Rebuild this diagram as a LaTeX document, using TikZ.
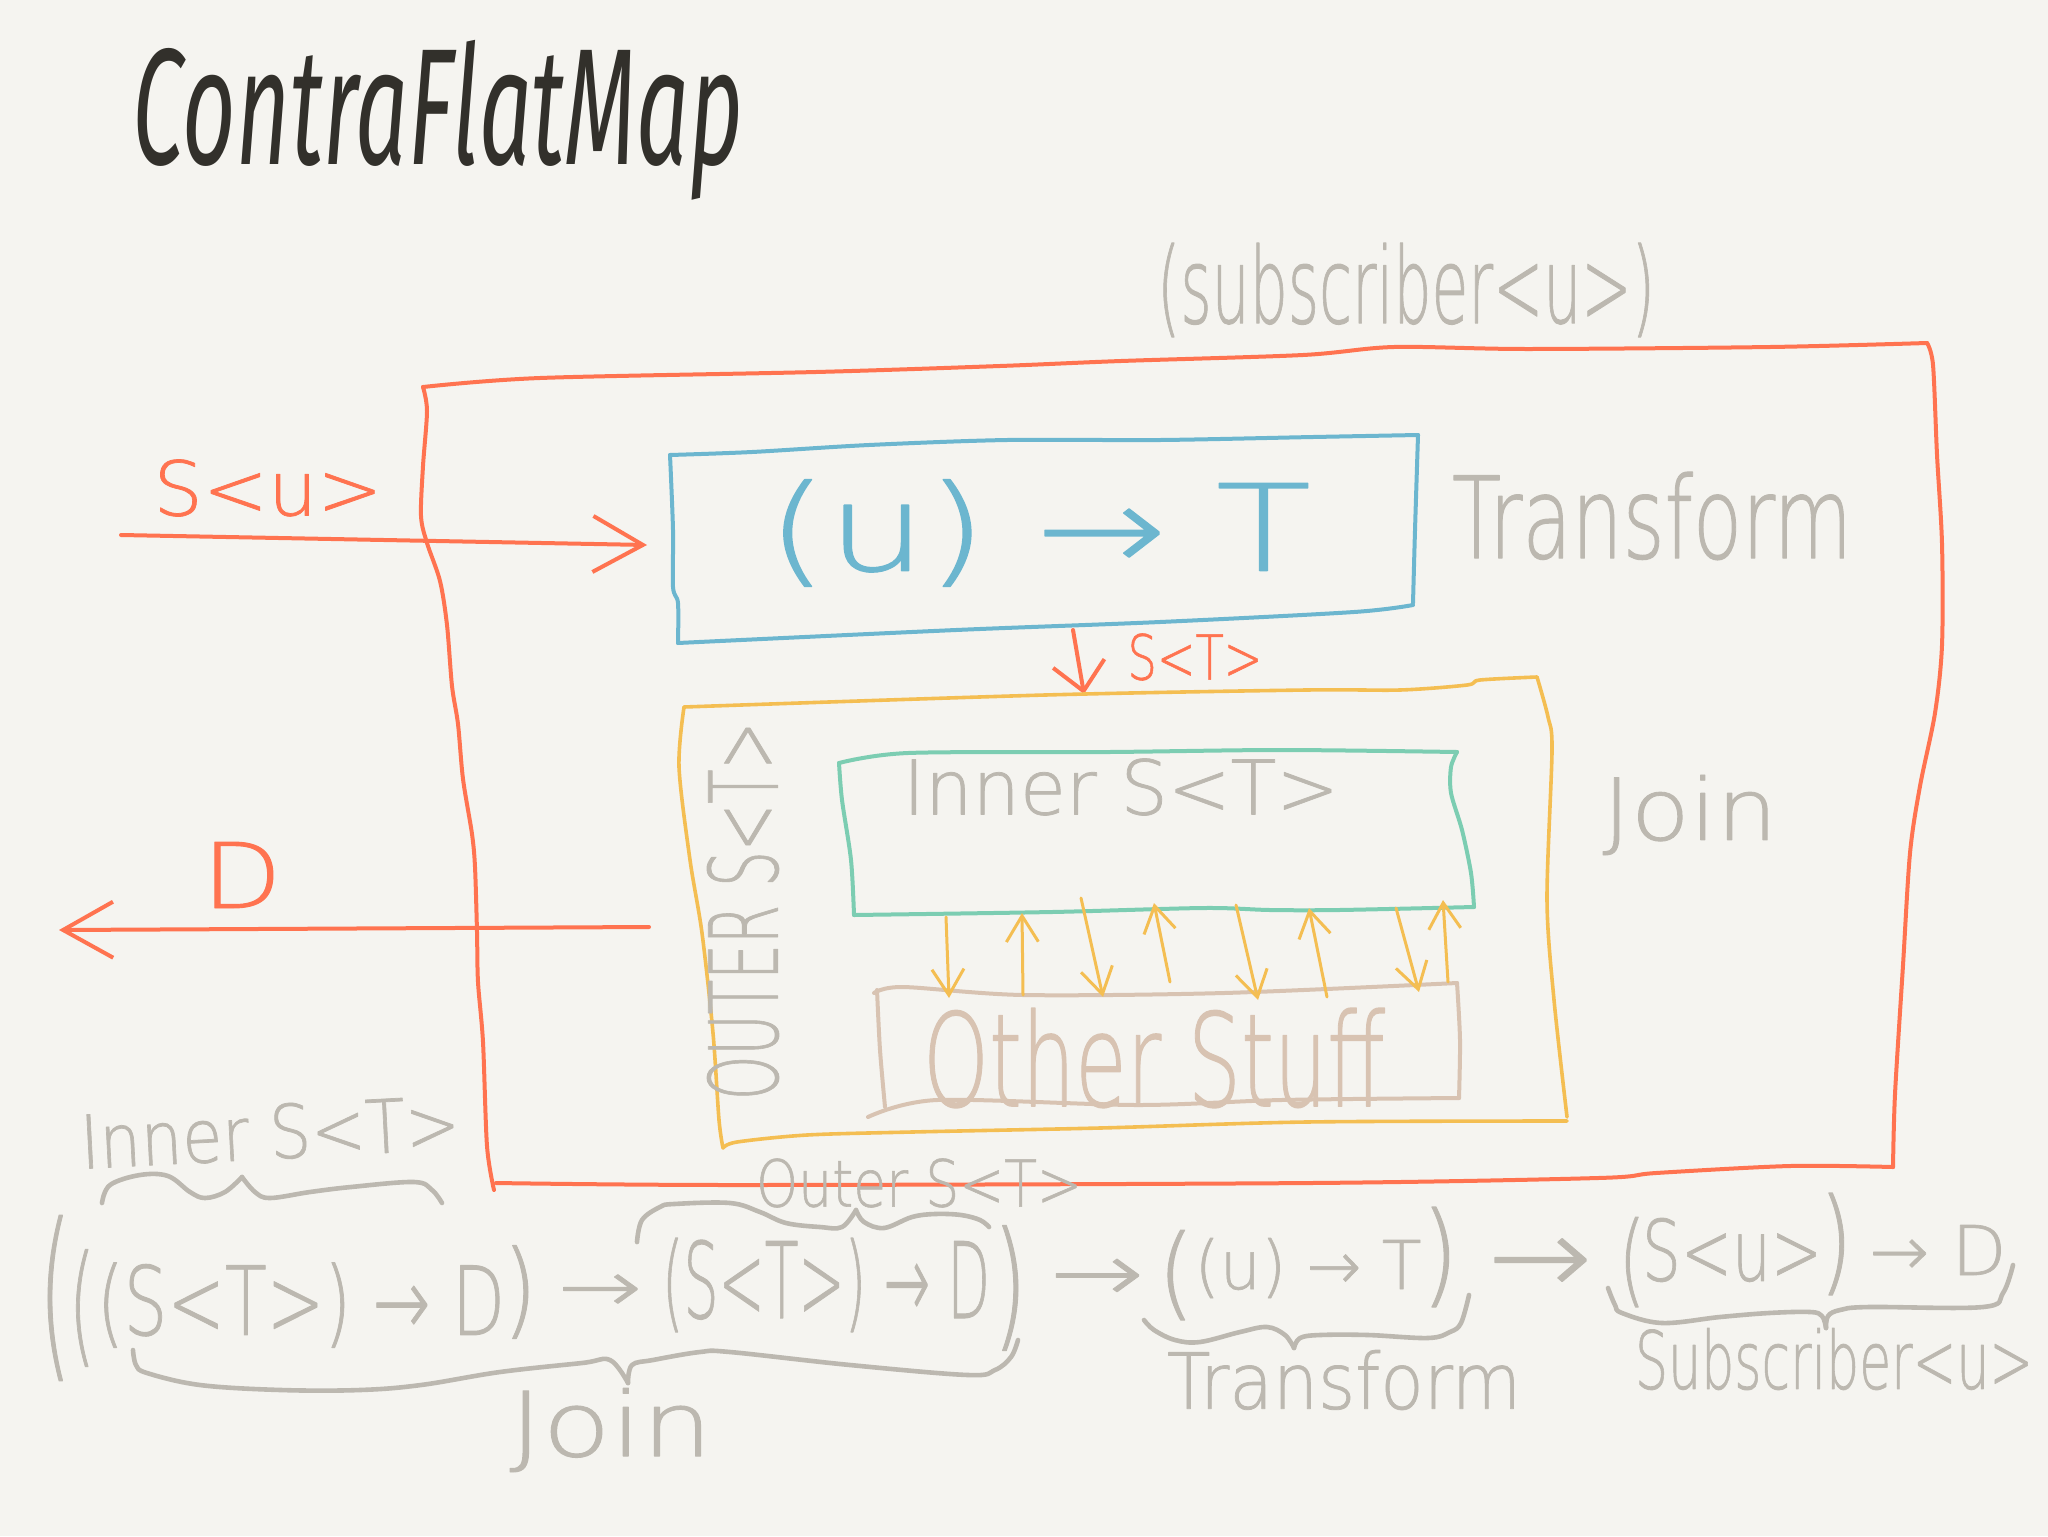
\documentclass[tikz,border=0pt]{standalone}
\usepackage{fontspec}
\usepackage{graphicx}
\usetikzlibrary{arrows.meta}
\newfontfamily\hand[Extension=.ttf,FakeBold=1]{DejaVuSans-ExtraLight}
\newfontfamily\titlef{Fira Sans}
\definecolor{bg}{HTML}{F5F4F0}
\definecolor{redo}{HTML}{FF7350}
\definecolor{bluo}{HTML}{6CB6CF}
\definecolor{greeno}{HTML}{7CCDB2}
\definecolor{yello}{HTML}{F4BE52}
\definecolor{tano}{HTML}{D8C3B2}
\definecolor{grayo}{HTML}{BCB8B0}
\definecolor{inko}{HTML}{32302B}
\newdimen\pxu \pxu=0.5pt
\newcommand\hw[3]{\resizebox*{#1\pxu}{#2\pxu}{\hand\bfseries #3}}
\begin{document}
\begin{tikzpicture}[x=0.5pt,y=-0.5pt,line cap=round,line join=round,
  lbl/.style={inner sep=0pt,outer sep=0pt,anchor=center},
  redbox/.style={draw=redo,line width=2pt},
  bluebox/.style={draw=bluo,line width=2pt},
  greenbox/.style={draw=greeno,line width=2pt},
  yellbox/.style={draw=yello,line width=1.8pt},
  tanbox/.style={draw=tano,line width=2pt},
  brace/.style={draw=grayo,line width=2.3pt},
  redarr/.style={draw=redo,line width=2pt,-{Straight Barb[length=25pt,width=28pt,line width=2pt]}},
  redarrs/.style={draw=redo,line width=2pt,-{Straight Barb[length=14pt,width=26pt,line width=2pt]}},
  yarr/.style={draw=yello,line width=1.5pt,-{Straight Barb[length=13pt,width=16pt,line width=1.5pt]}}]
\fill[bg] (0,0) rectangle (2048,1536);
\useasboundingbox (0,0) rectangle (2048,1536);

% title
\node[lbl,text=inko] (title) at (438,120) {\resizebox*{610\pxu}{160\pxu}{\titlef\itshape ContraFlatMap}};

% red outer box (Subscriber)
\draw[redbox] plot[smooth,tension=0.5] coordinates {(423,387) (540,378) (816,372) (1000,366) (1121,361) (1303,355) (1394,347) (1527,349) (1770,347) (1927,343)};
\draw[redbox] plot[smooth,tension=0.5] coordinates {(1927,343) (1933,365) (1937,455) (1942,544) (1942,645) (1935,713) (1920,786) (1910,853) (1903,965) (1895,1094) (1893,1167)};
\draw[redbox] plot[smooth,tension=0.5] coordinates {(1893,1167) (1790,1166) (1656,1173) (1598,1178) (1311,1183) (737,1185) (496,1183)};
\draw[redbox] plot[smooth,tension=0.5] coordinates {(494,1190) (487,1146) (483,1042) (478,982) (477,932) (475,867) (472,834) (463,779) (458,724) (452,686) (447,625) (440,581) (427,543) (421,516) (423,466) (427,411) (423,387)};
\node[lbl,text=grayo] (subscr) at (1406,290) {\hw{498}{94}{(subscriber<u>)}};

% blue box (Transform)
\draw[bluebox] plot[smooth,tension=0.5] coordinates {(670,455) (752,452) (869,445) (1007,440) (1160,440) (1313,437) (1418,435)};
\draw[bluebox] plot[smooth,tension=0.5] coordinates {(1418,435) (1415,530) (1413,603)};
\draw[bluebox] plot[smooth,tension=0.5] coordinates {(1413,605) (1354,612) (1160,622) (956,630) (678,643)};
\draw[bluebox] plot[smooth,tension=0.5] coordinates {(678,643) (678,603) (673,587) (673,530) (670,455)};
\node[lbl,text=bluo] (ut) at (1039,533) {\hw{544}{107}{(u) → T}};
\node[lbl,text=grayo] (transR) at (1652,516) {\hw{400}{88}{Transform}};

% input S<u>
\node[lbl,text=redo] (su) at (268,488) {\hw{229}{57}{S<u>}};
\coordinate (inA) at (121,535);
\coordinate (inB) at (647,545);
\draw[redarr] (inA) -- (inB);

% output D
\node[lbl,text=redo] (dl) at (242,875) {\hw{79}{66}{D}};
\coordinate (dA) at (649,927);
\coordinate (dB) at (59,930);
\draw[redarr] (dA) -- (dB);

% S<T> arrow
\coordinate (stA) at (1073,630);
\coordinate (stB) at (1084,694);
\draw[redarrs] (stA) -- (stB);
\node[lbl,text=redo] (stl) at (1195,657) {\hw{135}{47}{S<T>}};

% yellow box (Join)
\draw[yellbox] plot[smooth,tension=0.5] coordinates {(684,707) (1045,695) (1306,690) (1400,690) (1467,685) (1480,680) (1537,677)};
\draw[yellbox] plot[smooth,tension=0.5] coordinates {(1537,677) (1548,717) (1552,750) (1547,900) (1554,1000) (1567,1117)};
\draw[yellbox] plot[smooth,tension=0.5] coordinates {(1567,1121) (1306,1122) (1100,1128) (912,1132) (807,1135) (737,1142) (723,1148)};
\draw[yellbox] plot[smooth,tension=0.5] coordinates {(723,1148) (719,1120) (713,1033) (702,933) (690,860) (679,767) (684,707)};
\node[lbl,text=grayo,rotate=90] (outerv) at (743,911) {\hw{378}{72}{OUTER S<T>}};
\node[lbl,text=grayo] (joinR) at (1690,815) {\hw{175}{80}{Join}};

% green box (Inner)
\draw[greenbox] plot[smooth,tension=0.5] coordinates {(839,763) (908,753) (1109,752) (1281,750) (1457,752)};
\draw[greenbox] plot[smooth,tension=0.5] coordinates {(1457,752) (1451,767) (1451,793) (1462,830) (1471,873) (1474,907)};
\draw[greenbox] plot[smooth,tension=0.5] coordinates {(1474,907) (1339,910) (1270,910) (1204,908) (1052,912) (854,915)};
\draw[greenbox] plot[smooth,tension=0.5] coordinates {(854,915) (851,860) (842,800) (839,763)};
\node[lbl,text=grayo] (innerin) at (1121,787) {\hw{436}{57}{Inner S<T>}};

% other stuff box
\draw[tanbox] plot[smooth,tension=0.5] coordinates {(874,993) (903,987) (1023,995) (1224,993) (1457,983)};
\draw[tanbox] plot[smooth,tension=0.5] coordinates {(1457,983) (1460,1040) (1459,1098)};
\draw[tanbox] plot[smooth,tension=0.5] coordinates {(1459,1098) (1281,1100) (1138,1105) (937,1100) (868,1117)};
\draw[tanbox] plot[smooth,tension=0.5] coordinates {(877,990) (880,1050) (885,1107)};
\node[lbl,text=tano] (other) at (1154,1058) {\hw{462}{100}{Other Stuff}};

% yellow arrows between inner and other stuff
\foreach \i/\xa/\ya/\xb/\yb in {1/946/917/949/998, 2/1081/898/1103/997, 3/1236/905/1258/1000, 4/1396/908/1419/992,
  5/1023/995/1022/913, 6/1170/982/1154/903, 7/1327/997/1309/908, 8/1448/982/1443/900}{
  \coordinate (ys\i) at (\xa,\ya);
  \coordinate (ye\i) at (\xb,\yb);
  \draw[yarr] (ys\i) -- (ye\i);
}

% bottom formula
\node[lbl,text=grayo,rotate=3] (innerb) at (270,1132) {\hw{380}{56}{Inner S<T>}};
\node[lbl,text=grayo] (outerb) at (919,1183) {\hw{326}{49}{Outer S<T>}};
\draw[brace] plot[smooth,tension=0.6] coordinates {(102,1203) (110,1185) (140,1175) (168,1176) (190,1192) (205,1198) (225,1192) (242,1177)};
\draw[brace] plot[smooth,tension=0.6] coordinates {(242,1177) (255,1192) (270,1198) (310,1192) (351,1187) (414,1182) (432,1190) (442,1203)};
\draw[brace] plot[smooth,tension=0.6] coordinates {(637,1242) (642,1220) (660,1207) (674,1204) (730,1203) (760,1212) (786,1223) (820,1227) (842,1227) (856,1210)};
\draw[brace] plot[smooth,tension=0.6] coordinates {(856,1210) (864,1222) (884,1228) (912,1217) (935,1214) (961,1215) (980,1220) (989,1227)};

\node[lbl,text=grayo] (p1) at (55,1298) {\hw{32}{165}{(}};
\node[lbl,text=grayo] (p2) at (82,1308) {\hw{26}{117}{(}};
\node[lbl,text=grayo] (e1) at (301,1305) {\hw{408}{85}{(S<T>) → D}};
\node[lbl,text=grayo] (p3) at (520,1292) {\hw{34}{93}{)}};
\node[lbl,text=grayo] (a1) at (600,1293) {\hw{84}{37}{→}};
\node[lbl,text=grayo] (e2) at (826,1285) {\hw{328}{94}{(S<T>) → D}};
\node[lbl,text=grayo] (p4) at (1010,1288) {\hw{34}{125}{)}};
\node[lbl,text=grayo] (a2) at (1097,1280) {\hw{94}{42}{→}};
\node[lbl,text=grayo] (p5) at (1176,1275) {\hw{37}{90}{(}};
\node[lbl,text=grayo] (e3) at (1308,1268) {\hw{227}{60}{(u) → T}};
\node[lbl,text=grayo] (p6) at (1440,1257) {\hw{37}{100}{)}};
\node[lbl,text=grayo] (a3) at (1540,1266) {\hw{104}{55}{→}};
\node[lbl,text=grayo] (p7) at (1632,1262) {\hw{27}{90}{(}};
\node[lbl,text=grayo] (e4) at (1732,1250) {\hw{180}{64}{S<u>}};
\node[lbl,text=grayo] (p8) at (1836,1244) {\hw{33}{102}{)}};
\node[lbl,text=grayo] (e5) at (1938,1250) {\hw{137}{50}{→ D}};

\draw[brace] plot[smooth,tension=0.6] coordinates {(133,1350) (136,1365) (147,1373) (200,1385) (281,1390) (360,1390) (421,1385) (500,1372) (582,1363) (610,1360) (628,1383)};
\draw[brace] plot[smooth,tension=0.6] coordinates {(628,1383) (632,1365) (653,1360) (700,1352) (730,1352) (850,1365) (968,1375) (995,1370) (1011,1357) (1018,1340)};
\draw[brace] plot[smooth,tension=0.6] coordinates {(1144,1320) (1154,1330) (1175,1340) (1200,1342) (1240,1332) (1267,1327) (1285,1335) (1294,1348)};
\draw[brace] plot[smooth,tension=0.6] coordinates {(1294,1348) (1300,1338) (1320,1335) (1368,1335) (1428,1338) (1450,1332) (1461,1323) (1469,1295)};
\draw[brace] plot[smooth,tension=0.6] coordinates {(1608,1288) (1615,1305) (1622,1313) (1662,1323) (1720,1317) (1769,1313) (1810,1312) (1822,1316) (1826,1328)};
\draw[brace] plot[smooth,tension=0.6] coordinates {(1826,1328) (1828,1316) (1840,1310) (1869,1307) (1983,1307) (2003,1293) (2013,1265)};

\node[lbl,text=grayo] (joinb) at (611,1430) {\hw{203}{84}{Join}};
\node[lbl,text=grayo] (transb) at (1344,1380) {\hw{354}{60}{Transform}};
\node[lbl,text=grayo] (subb) at (1834,1359) {\hw{398}{62}{Subscriber<u>}};
\end{tikzpicture}
\end{document}
